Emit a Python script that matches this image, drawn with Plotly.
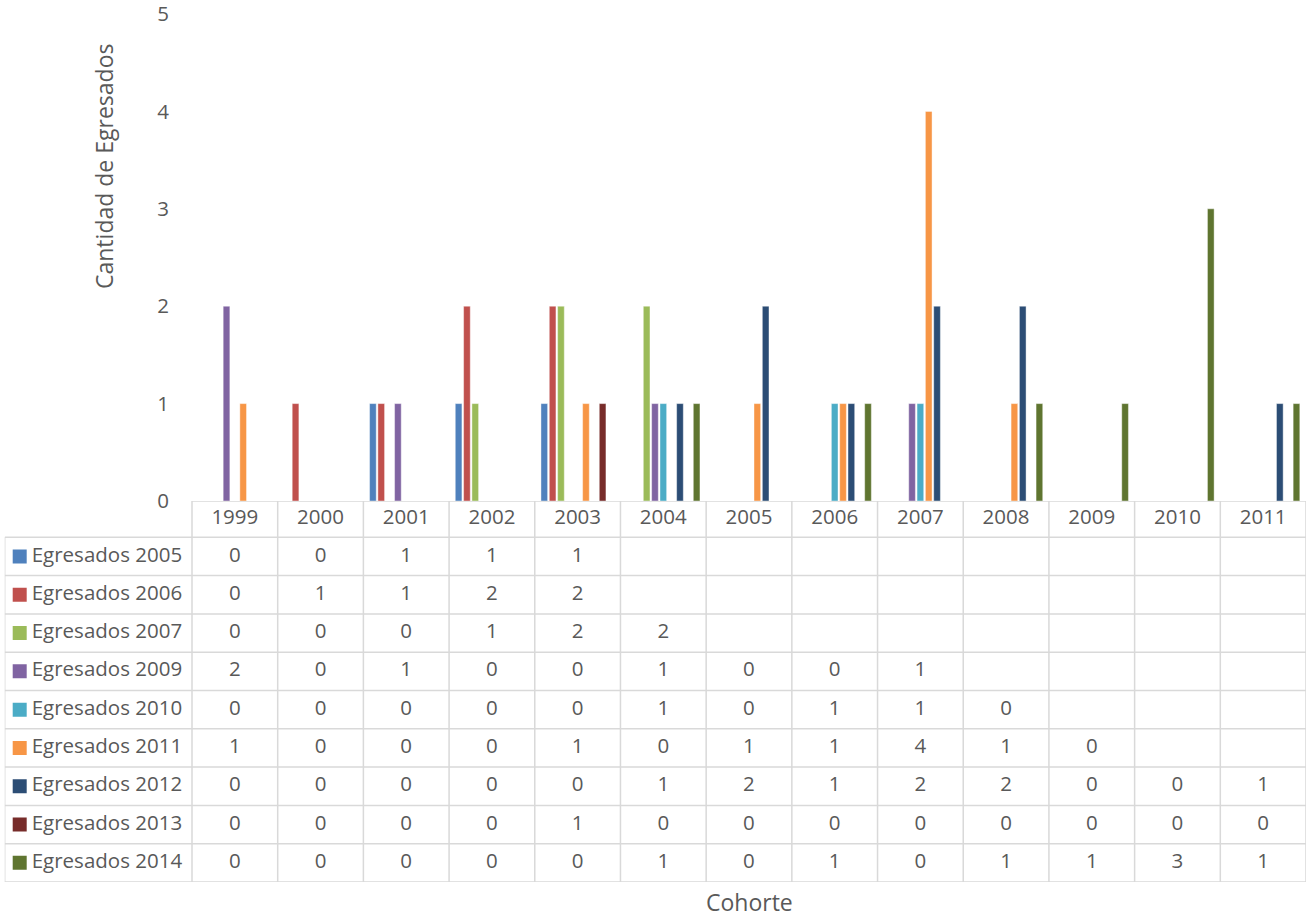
''' Egresados por cohorte: grouped bars with an Excel-style data table below '''

import plotly.graph_objects as go

# Cohort years (categories)
COHORTES = ['1999', '2000', '2001', '2002', '2003', '2004', '2005',
            '2006', '2007', '2008', '2009', '2010', '2011']

# Series names and values (None = empty cell in the data table)
SERIES = ['Egresados 2005', 'Egresados 2006', 'Egresados 2007', 'Egresados 2009',
          'Egresados 2010', 'Egresados 2011', 'Egresados 2012', 'Egresados 2013',
          'Egresados 2014']
EGR_2005 = [0, 0, 1, 1, 1, None, None, None, None, None, None, None, None]
EGR_2006 = [0, 1, 1, 2, 2, None, None, None, None, None, None, None, None]
EGR_2007 = [0, 0, 0, 1, 2, 2, None, None, None, None, None, None, None]
EGR_2009 = [2, 0, 1, 0, 0, 1, 0, 0, 1, None, None, None, None]
EGR_2010 = [0, 0, 0, 0, 0, 1, 0, 1, 1, 0, None, None, None]
EGR_2011 = [1, 0, 0, 0, 1, 0, 1, 1, 4, 1, 0, None, None]
EGR_2012 = [0, 0, 0, 0, 0, 1, 2, 1, 2, 2, 0, 0, 1]
EGR_2013 = [0, 0, 0, 0, 1, 0, 0, 0, 0, 0, 0, 0, 0]
EGR_2014 = [0, 0, 0, 0, 0, 1, 0, 1, 0, 1, 1, 3, 1]
VALUES = [EGR_2005, EGR_2006, EGR_2007, EGR_2009, EGR_2010,
          EGR_2011, EGR_2012, EGR_2013, EGR_2014]

Y_TICKS = [0, 1, 2, 3, 4, 5]

COLORS = ['#4F81BD', '#C0504D', '#9BBB59', '#8064A2', '#4BACC6',
          '#F79646', '#2C4D75', '#772C2A', '#5F7530']

W, H = 1306, 917
FONT = 'Open Sans'
TXT = '#595959'
GRID = '#d9d9d9'
FS = 20.5  # table / tick font size

def px_x(p: float) -> float:
    ''' Pixel column -> paper x '''
    return p / W

def px_y(p: float) -> float:
    ''' Pixel row -> paper y '''
    return (H - p) / H

n_cat = len(COHORTES)
n_ser = len(SERIES)
col_w = (W - 192) / n_cat            # pixel width of one table column
lab_left = -0.5 - (192 - 4.7) / col_w  # left edge of the label column (x2 units)
head_h = 36.3 / 38.3                 # header row height relative to body rows

fig = go.Figure()

# Bars (zero values are not drawn, like in Excel)
xs = list(range(n_cat))
for name, vals, col in zip(SERIES, VALUES, COLORS):
    fig.add_trace(go.Bar(
        x=xs, y=[v if v else None for v in vals], name=name,
        marker=dict(color=col, line=dict(color='rgba(255,255,255,0.7)', width=0.6)),
        xaxis='x', yaxis='y', showlegend=False,
    ))

# Table: header years
fig.add_trace(go.Scatter(
    x=xs, y=[-0.5 - head_h / 2] * n_cat, text=COHORTES, mode='text',
    textfont=dict(family=FONT, size=FS, color=TXT),
    xaxis='x2', yaxis='y2', showlegend=False, hoverinfo='skip',
))

# Table: cell values
cx, cy, ct = [], [], []
for r, vals in enumerate(VALUES):
    for c, v in enumerate(vals):
        if v is not None:
            cx.append(c)
            cy.append(r)
            ct.append(str(v))
fig.add_trace(go.Scatter(
    x=cx, y=cy, text=ct, mode='text',
    textfont=dict(family=FONT, size=FS, color=TXT),
    xaxis='x2', yaxis='y2', showlegend=False, hoverinfo='skip',
))

# Table: legend keys and row labels
rows = list(range(n_ser))
fig.add_trace(go.Scatter(
    x=[lab_left + 15 / col_w] * n_ser, y=rows, mode='markers',
    marker=dict(symbol='square', size=14, color=COLORS),
    xaxis='x2', yaxis='y2', showlegend=False, hoverinfo='skip',
))
fig.add_trace(go.Scatter(
    x=[lab_left + 27 / col_w] * n_ser, y=rows, text=SERIES, mode='text',
    textposition='middle right',
    textfont=dict(family=FONT, size=FS, color=TXT),
    xaxis='x2', yaxis='y2', showlegend=False, hoverinfo='skip',
))

# Table grid lines
line = dict(color=GRID, width=1.5)
top = -0.5 - head_h
shapes = [dict(type='line', xref='x2', yref='y2', x0=-0.5, x1=n_cat - 0.5,
               y0=top, y1=top, line=line)]
for r in range(n_ser + 1):
    shapes.append(dict(type='line', xref='x2', yref='y2', x0=lab_left, x1=n_cat - 0.5,
                       y0=r - 0.5, y1=r - 0.5, line=line))
for c in range(n_cat + 1):
    shapes.append(dict(type='line', xref='x2', yref='y2', x0=c - 0.5, x1=c - 0.5,
                       y0=top, y1=n_ser - 0.5, line=line))
shapes.append(dict(type='line', xref='x2', yref='y2', x0=lab_left, x1=lab_left,
                   y0=-0.5, y1=n_ser - 0.5, line=line))

fig.update_layout(
    width=W, height=H,
    margin=dict(l=0, r=0, t=0, b=0, autoexpand=False),
    paper_bgcolor='white', plot_bgcolor='rgba(0,0,0,0)',
    barmode='group', bargap=0.125, bargroupgap=0.2,
    font=dict(family=FONT, color=TXT),
    shapes=shapes,
    xaxis=dict(domain=[px_x(192), 1], range=[-0.5, n_cat - 0.5],
               showticklabels=False, showgrid=False, zeroline=False, showline=False,
               automargin=False, fixedrange=True),
    yaxis=dict(domain=[px_y(501), px_y(14)], range=[0, 5], tickvals=Y_TICKS,
               showgrid=False, zeroline=False, showline=False, automargin=False,
               ticks='', ticklabelstandoff=22, ticklabeloverflow='allow',
               tickfont=dict(family=FONT, size=FS, color=TXT)),
    xaxis2=dict(domain=[px_x(4.7), 1], range=[lab_left, n_cat - 0.5],
                visible=False, anchor='y2', automargin=False),
    yaxis2=dict(domain=[px_y(882), px_y(501)], range=[n_ser - 0.5, top],
                visible=False, anchor='x2', automargin=False),
    annotations=[
        dict(text='Cantidad de Egresados', xref='paper', yref='paper',
             x=px_x(104), y=px_y(167), xanchor='center', yanchor='middle',
             textangle=-90, showarrow=False,
             font=dict(family=FONT, size=23, color=TXT)),
        dict(text='Cohorte', xref='paper', yref='paper',
             x=px_x(749), y=px_y(902), xanchor='center', yanchor='middle',
             showarrow=False,
             font=dict(family=FONT, size=23, color=TXT)),
    ],
)

# Drop the browser's default page margin so the figure sits at the window origin
fig.write_html("out.html", config={'displayModeBar': False},
               post_script="document.body.style.margin='0';")
